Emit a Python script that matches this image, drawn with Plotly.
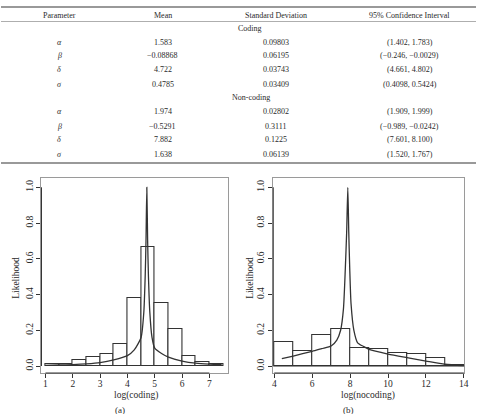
import plotly.graph_objects as go

W, H = 481, 414

# ---------------- table data ----------------
table_header = ["Parameter", "Mean", "Standard Deviation", "95% Confidence Interval"]
params = ["α", "β", "δ", "σ"]
coding_mean = ["1.583", "\u22120.08868", "4.722", "0.4785"]
coding_sd = ["0.09803", "0.06195", "0.03743", "0.03409"]
coding_ci = ["(1.402, 1.783)", "(\u22120.246, \u22120.0029)", "(4.661, 4.802)", "(0.4098, 0.5424)"]
noncoding_mean = ["1.974", "\u22120.5291", "7.882", "1.638"]
noncoding_sd = ["0.02802", "0.3111", "0.1225", "0.06139"]
noncoding_ci = ["(1.909, 1.999)", "(\u22120.989, \u22120.0242)", "(7.601, 8.100)", "(1.520, 1.767)"]

# ---------------- histogram (a) coding ----------------
coding_bin_left = [1.0, 1.5, 2.0, 2.5, 3.0, 3.5, 4.0, 4.5, 5.0, 5.5, 6.0, 6.5, 7.0]
coding_bin_width = 0.5
coding_hist = [0.010, 0.010, 0.032, 0.049, 0.068, 0.125, 0.379, 0.664, 0.354, 0.208, 0.058, 0.021, 0.013]
coding_curve_x = [1.0, 1.5, 2.0, 2.5, 3.0, 3.5, 4.0, 4.25, 4.5, 4.6, 4.65, 4.68, 4.71,
                  4.74, 4.77, 4.82, 4.9, 5.0, 5.25, 5.5, 6.0, 6.5, 7.0, 7.45]
coding_curve_y = [0.004, 0.006, 0.008, 0.012, 0.019, 0.034, 0.058, 0.09, 0.16, 0.3, 0.5, 0.7, 1.0,
                  0.7, 0.5, 0.3, 0.16, 0.1, 0.07, 0.05, 0.028, 0.016, 0.011, 0.009]

# ---------------- histogram (b) non-coding ----------------
nocoding_bin_left = [4, 5, 6, 7, 8, 9, 10, 11, 12, 13]
nocoding_bin_width = 1.0
nocoding_hist = [0.136, 0.086, 0.175, 0.207, 0.100, 0.095, 0.073, 0.065, 0.047, 0.007]
nocoding_curve_x = [4.4, 5.0, 6.0, 6.5, 7.0, 7.3, 7.5, 7.65, 7.75, 7.82, 7.88, 7.93, 7.98,
                    8.05, 8.2, 8.4, 8.7, 9.0, 10.0, 11.0, 12.0, 13.0, 14.0]
nocoding_curve_y = [0.041, 0.056, 0.082, 0.097, 0.112, 0.145, 0.2, 0.32, 0.55, 0.75, 1.0, 0.75, 0.55,
                    0.35, 0.2, 0.13, 0.11, 0.093, 0.067, 0.047, 0.028, 0.01, 0.002]

x_ticks_a = [1, 2, 3, 4, 5, 6, 7]
x_ticks_b = [4, 6, 8, 10, 12, 14]
y_ticks = [0.0, 0.2, 0.4, 0.6, 0.8, 1.0]


def px(x):
    return x / W


def py(y):
    return 1 - y / H


SERIF = "Liberation Serif"
INK = "#2a2a2a"

fig = go.Figure()

fig.add_trace(go.Bar(
    x=[b + coding_bin_width / 2 for b in coding_bin_left], y=coding_hist,
    width=coding_bin_width, marker=dict(color="white", line=dict(color="#333", width=1.1)),
    xaxis="x", yaxis="y", showlegend=False))
fig.add_trace(go.Scatter(x=coding_curve_x, y=coding_curve_y, mode="lines",
                         line=dict(color="#333", width=1.3, shape="spline", smoothing=0.6),
                         xaxis="x", yaxis="y", showlegend=False))
fig.add_trace(go.Bar(
    x=[b + nocoding_bin_width / 2 for b in nocoding_bin_left], y=nocoding_hist,
    width=nocoding_bin_width, marker=dict(color="white", line=dict(color="#333", width=1.1)),
    xaxis="x2", yaxis="y2", showlegend=False))
fig.add_trace(go.Scatter(x=nocoding_curve_x, y=nocoding_curve_y, mode="lines",
                         line=dict(color="#333", width=1.3, shape="spline", smoothing=0.6),
                         xaxis="x2", yaxis="y2", showlegend=False))

ydom = [py(373), py(178)]
axis_common = dict(showgrid=False, zeroline=False, showline=True, mirror=True,
                   linecolor="#9a9a9a", linewidth=1, ticks="outside", ticklen=4,
                   tickcolor="#333", tickfont=dict(family=SERIF, size=9.5, color=INK))

fig.update_layout(
    width=W, height=H, margin=dict(l=0, r=0, t=0, b=0),
    paper_bgcolor="white", plot_bgcolor="white", bargap=0,
    xaxis=dict(domain=[px(41), px(230)], range=[0.855, 7.686], tickvals=x_ticks_a,
               anchor="y", ticklabelstandoff=-2, **axis_common),
    yaxis=dict(domain=ydom, range=[-0.039, 1.052], tickvals=y_ticks, tickformat=".1f",
               tickangle=-90, anchor="x", **axis_common),
    xaxis2=dict(domain=[px(275.7), px(469)], range=[3.948, 14.016], tickvals=x_ticks_b,
                anchor="y2", ticklabelstandoff=-2, **axis_common),
    yaxis2=dict(domain=ydom, range=[-0.039, 1.052], tickvals=y_ticks, tickformat=".1f",
                tickangle=-90, anchor="x2", **axis_common),
)

shapes = []
shapes.append(dict(type="line", xref="x", yref="y domain", x0=1, x1=7, y0=0, y1=0,
                   line=dict(color="#333", width=1)))
shapes.append(dict(type="line", xref="x domain", yref="y", x0=0, x1=0, y0=0, y1=1,
                   line=dict(color="#333", width=1)))
shapes.append(dict(type="line", xref="x2", yref="y2 domain", x0=4, x1=14, y0=0, y1=0,
                   line=dict(color="#333", width=1)))
shapes.append(dict(type="line", xref="x2 domain", yref="y2", x0=0, x1=0, y0=0, y1=1,
                   line=dict(color="#333", width=1)))
shapes.append(dict(type="line", xref="x2 domain", yref="y2", x0=0, x1=1, y0=0, y1=0,
                   line=dict(color="#333", width=1)))
shapes.append(dict(type="line", xref="paper", yref="paper", x0=0, x1=1, y0=py(7), y1=py(7),
                   line=dict(color="#777", width=1.5)))
shapes.append(dict(type="line", xref="paper", yref="paper", x0=0, x1=1, y0=py(21.5), y1=py(21.5),
                   line=dict(color="#999", width=0.8)))
shapes.append(dict(type="line", xref="paper", yref="paper", x0=0, x1=1, y0=py(163), y1=py(163),
                   line=dict(color="#777", width=1.5)))

ann = []


def text(x, y, s, size=8, italic=False, angle=0, color=INK):
    ann.append(dict(xref="paper", yref="paper", x=px(x), y=py(y), text=s, showarrow=False,
                    xanchor="center", yanchor="middle", textangle=angle,
                    font=dict(family=SERIF, size=size, color=color,
                              style="italic" if italic else "normal")))


col_x = [59, 164, 278, 414]
for cx, h in zip(col_x, table_header):
    text(cx, 15, h)
text(252, 29, "Coding")
row_y_c = [42, 56, 70, 84]
for i, ry in enumerate(row_y_c):
    text(col_x[0], ry, params[i], italic=True)
    text(col_x[1], ry, coding_mean[i])
    text(col_x[2], ry, coding_sd[i])
    text(col_x[3], ry, coding_ci[i])
text(253, 98, "Non-coding")
row_y_n = [112, 126, 140, 154]
for i, ry in enumerate(row_y_n):
    text(col_x[0], ry, params[i], italic=True)
    text(col_x[1], ry, noncoding_mean[i])
    text(col_x[2], ry, noncoding_sd[i])
    text(col_x[3], ry, noncoding_ci[i])

text(137, 395, "log(coding)", size=9.5)
text(372, 395, "log(nocoding)", size=9.5)
text(15, 278, "Likelihood", size=9.5, angle=-90)
text(252, 278, "Likelihood", size=9.5, angle=-90)
text(120, 409.5, "(a)", size=9)
text(352, 409.5, "(b)", size=9)

fig.update_layout(shapes=shapes, annotations=ann)
fig.write_html("out.html")
